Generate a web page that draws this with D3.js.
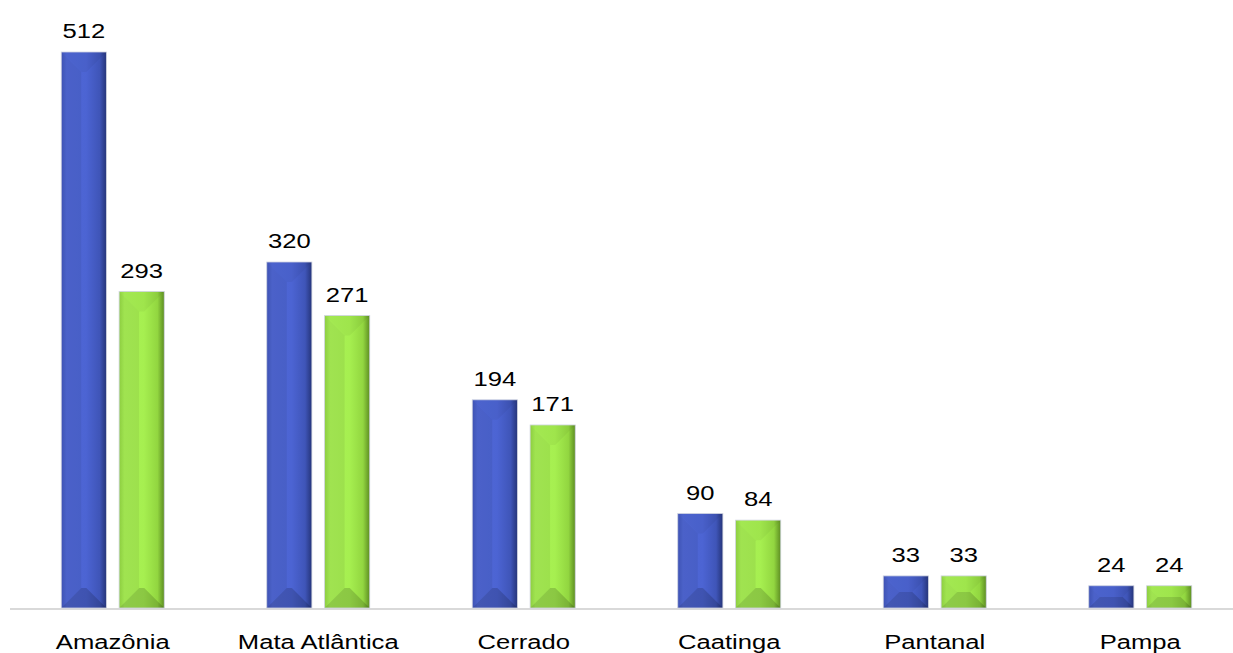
<!DOCTYPE html>
<html>
<head>
<meta charset="utf-8">
<script src="https://cdn.jsdelivr.net/npm/d3@7"></script>
<style>
  body { margin: 0; background: #fff; }
  text { font-family: "Liberation Sans", Arial, sans-serif; fill: #000; }
</style>
</head>
<body>
<div id="chart"></div>
<script>
// Data
const biomes = ["Amazônia", "Mata Atlântica", "Cerrado", "Caatinga", "Pantanal", "Pampa"];
const seriesA = [512, 320, 194, 90, 33, 24];
const seriesB = [293, 271, 171, 84, 33, 24];
const seriesKeys = ["a", "b"];

const W = 1233, H = 653;
const baseY = 608;
const xStretch = 1.22; // text in the picture is stretched horizontally

// gradient stops across each bar, left to right
const palette = {
  a: [["0%", "#4358bf"], ["12%", "#5068d6"], ["55%", "#4c64d3"], ["85%", "#3f55b8"], ["100%", "#253479"]],
  b: [["0%", "#97db45"], ["12%", "#aaf256"], ["55%", "#a6ef50"], ["85%", "#92d640"], ["100%", "#5d8d22"]]
};

const rows = biomes.map((name, i) => ({ name, a: seriesA[i], b: seriesB[i] }));

const svg = d3.select("#chart").append("svg")
  .attr("width", W).attr("height", H);

const defs = svg.append("defs");
seriesKeys.forEach(k => {
  defs.append("linearGradient")
    .attr("id", "grad-" + k)
    .attr("x1", "0%").attr("x2", "100%").attr("y1", "0%").attr("y2", "0%")
    .selectAll("stop").data(palette[k]).enter().append("stop")
    .attr("offset", d => d[0]).attr("stop-color", d => d[1]);
});

const x0 = d3.scaleBand().domain(biomes).range([10, 1243]).padding(0);
const x1 = d3.scaleBand().domain(seriesKeys).range([0, 103]).paddingInner(0.22);
const y = d3.scaleLinear().domain([0, 512]).range([612, 52]);

// axis line
svg.append("line")
  .attr("x1", 10).attr("x2", W)
  .attr("y1", baseY + 1).attr("y2", baseY + 1)
  .attr("stroke", "#d9d9d9").attr("stroke-width", 2);

// one bar: gradient body plus shaded top / bottom bevels
function bevelBar(g, xL, yT, w, h, k) {
  const xR = xL + w, yB = yT + h;
  const b = Math.min(w / 2, h / 2, 20);
  g.append("rect")
    .attr("x", xL).attr("y", yT).attr("width", w).attr("height", h)
    .attr("fill", `url(#grad-${k})`);
  const bevels = [
    { o: 0.04, c: "#000", p: [[xL, yT], [xR, yT], [xR - b, yT + b], [xL + b, yT + b]] },
    { o: 0.16, c: "#000", p: [[xL, yB], [xR, yB], [xR - b, yB - b], [xL + b, yB - b]] },
    { o: 0.06, c: "#000", p: [[xL, yT], [xL + b, yT + b], [xL + b, yB - b], [xL, yB]] }
  ];
  g.selectAll(null).data(bevels).enter().append("polygon")
    .attr("points", d => d.p.map(pt => pt.join(",")).join(" "))
    .attr("fill", d => d.c).attr("fill-opacity", d => d.o);
  g.append("rect")
    .attr("x", xL).attr("y", yT).attr("width", w).attr("height", h)
    .attr("fill", "none").attr("stroke", "#cfd3e0").attr("stroke-width", 0.8);
}

const groups = svg.selectAll("g.grp")
  .data(rows).enter().append("g")
  .attr("class", "grp")
  .attr("transform", d => `translate(${x0(d.name) + x0.bandwidth() / 2 - 51.5},0)`);

groups.each(function(d) {
  const g = d3.select(this);
  seriesKeys.forEach(k => {
    const xL = x1(k);
    const yT = y(d[k]);
    bevelBar(g, xL, yT, x1.bandwidth(), baseY - yT, k);
    g.append("text")
      .attr("transform", `translate(${xL + x1.bandwidth() / 2},${yT - 14}) scale(${xStretch},1)`)
      .attr("text-anchor", "middle")
      .style("font-size", "21px")
      .text(d[k]);
  });
});

// category labels
svg.selectAll("text.cat")
  .data(biomes).enter().append("text")
  .attr("class", "cat")
  .attr("transform", d => `translate(${x0(d) + x0.bandwidth() / 2},649) scale(${xStretch},1)`)
  .attr("text-anchor", "middle")
  .style("font-size", "21px")
  .text(d => d);
</script>
</body>
</html>
